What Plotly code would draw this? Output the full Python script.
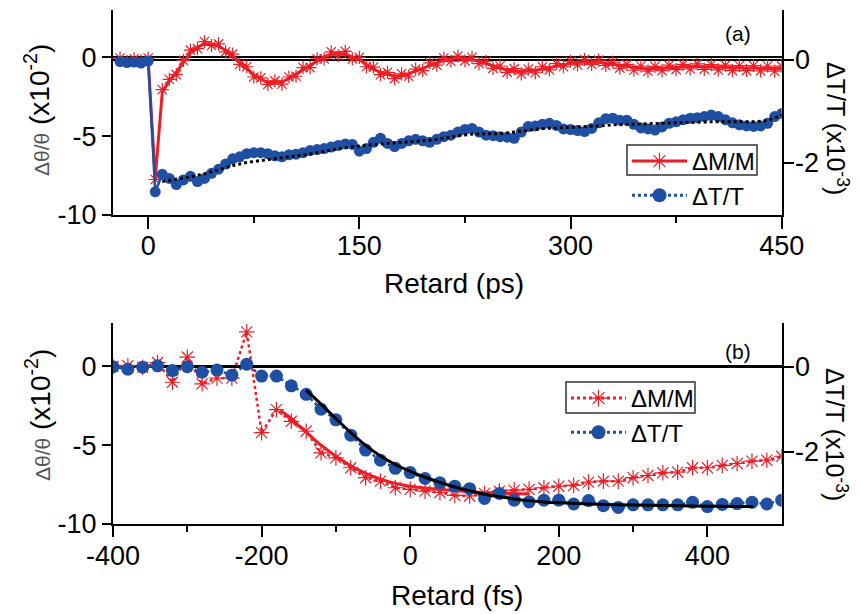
import plotly.graph_objects as go

# ---------------- Panel (a): Retard (ps) ----------------
t_a = list(range(-20, 455, 5))
dM_a = [-0.05, -0.25, -0.10, -0.22, -0.05, -7.75, -2.05, -1.40, -1.10, -0.20,
        0.45, 0.55, 1.00, 0.75, 0.85, 0.35, 0.20, -0.45, -0.60, -1.25,
        -1.30, -1.72, -1.50, -1.70, -1.25, -1.20, -0.65, -0.65, -0.10, -0.10,
        0.35, 0.10, 0.38, -0.10, 0.00, -0.60, -0.62, -1.10, -0.95, -1.35,
        -1.05, -1.20, -0.75, -0.85, -0.35, -0.50, -0.05, -0.25, 0.08, -0.22,
        0.00, -0.40, -0.25, -0.70, -0.55, -0.95, -0.72, -1.05, -0.75, -0.98,
        -0.60, -0.80, -0.40, -0.60, -0.25, -0.48, -0.15, -0.45, -0.18, -0.52,
        -0.30, -0.68, -0.45, -0.82, -0.55, -0.88, -0.57, -0.85, -0.50, -0.78,
        -0.45, -0.74, -0.42, -0.76, -0.46, -0.80, -0.50, -0.84, -0.52, -0.84,
        -0.52, -0.86, -0.55, -0.88, -0.56]
dM_a_fit = [-0.15, -0.10, -0.20, -0.12, -0.15, -7.70, -2.20, -1.50, -0.95, -0.35,
            0.30, 0.65, 0.85, 0.85, 0.70, 0.45, 0.10, -0.30, -0.72, -1.10,
            -1.40, -1.58, -1.62, -1.55, -1.35, -1.05, -0.80, -0.50, -0.25, 0.05,
            0.18, 0.25, 0.20, 0.05, -0.15, -0.45, -0.75, -0.95, -1.10, -1.20,
            -1.18, -1.05, -0.88, -0.70, -0.50, -0.35, -0.20, -0.10, -0.05, -0.08,
            -0.15, -0.25, -0.40, -0.55, -0.68, -0.80, -0.88, -0.90, -0.88, -0.82,
            -0.75, -0.65, -0.55, -0.45, -0.38, -0.33, -0.30, -0.30, -0.32, -0.38,
            -0.45, -0.52, -0.60, -0.66, -0.70, -0.72, -0.72, -0.70, -0.66, -0.62,
            -0.60, -0.58, -0.58, -0.60, -0.62, -0.64, -0.66, -0.68, -0.68, -0.68,
            -0.68, -0.70, -0.70, -0.72, -0.72]
dT_a = [-0.03, -0.05, -0.04, -0.06, -0.02, -2.56, -2.22, -2.30, -2.42, -2.33,
        -2.26, -2.36, -2.30, -2.20, -2.12, -2.02, -1.92, -1.88, -1.82, -1.80,
        -1.80, -1.82, -1.86, -1.88, -1.84, -1.83, -1.80, -1.76, -1.74, -1.72,
        -1.69, -1.66, -1.63, -1.64, -1.77, -1.72, -1.60, -1.52, -1.62, -1.68,
        -1.62, -1.57, -1.54, -1.57, -1.60, -1.54, -1.49, -1.46, -1.40, -1.35,
        -1.33, -1.40, -1.46, -1.47, -1.49, -1.50, -1.52, -1.40, -1.29, -1.28,
        -1.25, -1.23, -1.27, -1.34, -1.35, -1.37, -1.39, -1.33, -1.22, -1.14,
        -1.13, -1.17, -1.17, -1.25, -1.32, -1.34, -1.36, -1.30, -1.23, -1.20,
        -1.16, -1.13, -1.12, -1.10, -1.07, -1.10, -1.16, -1.22, -1.26, -1.28,
        -1.29, -1.28, -1.23, -1.10, -1.04]
t_a_fit = list(range(10, 460, 10))
dT_a_fit = [-2.36, -2.32, -2.27, -2.21, -2.13, -2.05, -1.99, -1.95, -1.91, -1.88,
            -1.85, -1.80, -1.75, -1.70, -1.67, -1.64, -1.62, -1.60, -1.58, -1.56,
            -1.52, -1.47, -1.44, -1.43, -1.43, -1.40, -1.36, -1.33, -1.32, -1.31,
            -1.30, -1.28, -1.26, -1.25, -1.25, -1.24, -1.23, -1.22, -1.21, -1.20,
            -1.20, -1.20, -1.20, -1.18, -1.07]

# ---------------- Panel (b): Retard (fs) ----------------
t_b = list(range(-400, 520, 20))
dM_b = [0.00, 0.05, -0.05, 0.25, -1.00, 0.60, -1.10, -0.74, -0.74, 2.20,
        -4.20, -2.74, -3.48, -4.11, -5.48, -5.80, -6.43, -7.06, -7.28, -7.70,
        -7.80, -7.91, -8.00, -8.18, -8.22, -8.06, -7.91, -7.85, -7.80, -7.70,
        -7.60, -7.55, -7.34, -7.28, -7.28, -7.06, -6.92, -6.75, -6.71, -6.43,
        -6.43, -6.28, -6.16, -6.01, -5.95, -5.70]
dT_b = [0.00, -0.06, -0.01, 0.02, -0.09, 0.00, -0.13, -0.08, -0.20, 0.06,
        -0.22, -0.22, -0.45, -0.65, -1.00, -1.25, -1.61, -1.96, -2.20, -2.39,
        -2.49, -2.63, -2.73, -2.81, -2.87, -3.10, -2.98, -3.14, -3.18, -3.14,
        -3.14, -3.23, -3.15, -3.27, -3.31, -3.25, -3.25, -3.25, -3.25, -3.19,
        -3.29, -3.24, -3.22, -3.19, -3.23, -3.14]
t_b_rfit = [-175, -160, -150, -140, -130, -120, -110, -100, -90, -80, -70, -60,
            -50, -40, -30, -20, -10, 0, 20, 40, 60, 80, 100, 120, 140, 160]
dM_b_fit = [-2.80, -3.30, -3.75, -4.15, -4.60, -5.00, -5.35, -5.70, -6.00, -6.30,
            -6.55, -6.78, -6.98, -7.15, -7.30, -7.42, -7.52, -7.60, -7.72, -7.80,
            -7.88, -7.95, -8.00, -8.04, -8.07, -8.10]
t_b_bfit = [-140, -120, -100, -80, -60, -40, -20, 0, 20, 40, 60, 80, 100, 120,
            140, 160, 180, 200, 240, 280, 320, 360, 400, 440, 462]
dT_b_fit = [-0.55, -0.88, -1.22, -1.55, -1.85, -2.10, -2.30, -2.46, -2.60, -2.72,
            -2.83, -2.92, -3.00, -3.06, -3.11, -3.15, -3.18, -3.20, -3.23, -3.25,
            -3.26, -3.27, -3.28, -3.29, -3.29]

# tick labels (plain hyphen minus as in the original)
ticks_left = [-10, -5, 0]
ticks_left_txt = ["-10", "-5", "0"]
ticks_right = [-2, 0]
ticks_right_txt = ["-2", "0"]
ticks_ps = [0, 150, 300, 450]
ticks_ps_txt = ["0", "150", "300", "450"]
ticks_fs = [-400, -200, 0, 200, 400]
ticks_fs_txt = ["-400", "-200", "0", "200", "400"]

RED = "#EE1C25"
BLUE = "#1F4FA3"
FONT = "Liberation Sans, Arial, sans-serif"

fig = go.Figure()

star = lambda s: dict(symbol="asterisk-open", size=s, color=RED, line=dict(color=RED, width=1.2))

# panel a traces
fig.add_trace(go.Scatter(x=t_a, y=dM_a, mode="markers", xaxis="x", yaxis="y",
                         marker=star(11), showlegend=False))
fig.add_trace(go.Scatter(x=t_a, y=dM_a_fit, mode="lines", xaxis="x", yaxis="y",
                         line=dict(color=RED, width=3), showlegend=False))
fig.add_trace(go.Scatter(x=t_a, y=dT_a, mode="lines+markers", xaxis="x", yaxis="y2",
                         line=dict(color=BLUE, width=2.5),
                         marker=dict(symbol="circle", size=11, color=BLUE),
                         showlegend=False))
fig.add_trace(go.Scatter(x=t_a_fit, y=dT_a_fit, mode="lines", xaxis="x", yaxis="y2",
                         line=dict(color="black", width=3, dash="dot"),
                         showlegend=False))
# legend (a)
fig.add_trace(go.Scatter(x=[None], y=[None], mode="lines+markers", xaxis="x", yaxis="y",
                         name="ΔM/M", legend="legend",
                         line=dict(color=RED, width=3), marker=star(14)))
fig.add_trace(go.Scatter(x=[None], y=[None], mode="lines+markers", xaxis="x", yaxis="y",
                         name="ΔT/T", legend="legend",
                         line=dict(color=BLUE, width=3, dash="dot"),
                         marker=dict(symbol="circle", size=14, color=BLUE)))

# panel b traces
fig.add_trace(go.Scatter(x=t_b, y=dM_b, mode="lines+markers", xaxis="x2", yaxis="y3",
                         line=dict(color=RED, width=2.5, dash="dot"),
                         marker=star(13), showlegend=False))
fig.add_trace(go.Scatter(x=t_b_rfit, y=dM_b_fit, mode="lines", xaxis="x2", yaxis="y3",
                         line=dict(color=RED, width=3, shape="spline"), showlegend=False))
fig.add_trace(go.Scatter(x=t_b, y=dT_b, mode="lines+markers", xaxis="x2", yaxis="y4",
                         line=dict(color=BLUE, width=2.5, dash="dot"),
                         marker=dict(symbol="circle", size=13, color=BLUE),
                         showlegend=False))
fig.add_trace(go.Scatter(x=t_b_bfit, y=dT_b_fit, mode="lines", xaxis="x2", yaxis="y4",
                         line=dict(color="black", width=3, shape="spline"), showlegend=False))
# legend (b)
fig.add_trace(go.Scatter(x=[None], y=[None], mode="lines+markers", xaxis="x2", yaxis="y3",
                         name="ΔM/M", legend="legend2",
                         line=dict(color=RED, width=3, dash="dot"), marker=star(14)))
fig.add_trace(go.Scatter(x=[None], y=[None], mode="lines+markers", xaxis="x2", yaxis="y3",
                         name="ΔT/T", legend="legend2",
                         line=dict(color=BLUE, width=3, dash="dot"),
                         marker=dict(symbol="circle", size=14, color=BLUE)))

W, H = 861, 614
xd = [113 / W, 781.7 / W]
dom_a = [1 - 215 / H, 1 - 10 / H]
dom_b = [1 - 524 / H, 1 - 322.7 / H]

tickfont = dict(family=FONT, size=27, color="black")
axcommon = dict(showline=True, linecolor="black", linewidth=2, ticks="outside",
                tickwidth=2, tickcolor="black", showgrid=False, automargin=False,
                tickfont=tickfont)

fig.update_layout(
    width=W, height=H, autosize=False,
    margin=dict(l=0, r=0, t=0, b=0),
    paper_bgcolor="white", plot_bgcolor="white",
    font=dict(family=FONT, color="black"),
    xaxis=dict(domain=xd, anchor="y", range=[-25, 450], tickvals=ticks_ps,
               ticktext=ticks_ps_txt, ticklen=12, zeroline=False, ticklabelstandoff=-6,
               minor=dict(tickvals=[75, 225, 375], ticklen=6, tickwidth=2, ticks="outside",
                          tickcolor="black"),
               **axcommon),
    xaxis3=dict(overlaying="x", anchor="y", side="top", range=[-25, 450], tickvals=ticks_ps,
                showline=True, linecolor="black", linewidth=2, ticks="inside", ticklen=10,
                tickwidth=2, tickcolor="black", showticklabels=False, showgrid=False,
                zeroline=False, automargin=False,
                minor=dict(tickvals=[75, 225, 375], ticklen=5, tickwidth=2, ticks="inside",
                           tickcolor="black")),
    yaxis=dict(domain=dom_a, anchor="x", range=[-10, 3], tickvals=ticks_left,
               ticktext=ticks_left_txt, ticklen=9,
               zeroline=True, zerolinecolor="black", zerolinewidth=2, **axcommon),
    yaxis2=dict(overlaying="y", anchor="x", side="right", range=[-3.01, 0.97],
                tickvals=ticks_right, ticktext=ticks_right_txt, ticklen=10, zeroline=True,
                zerolinecolor="black", zerolinewidth=2, ticklabelstandoff=-4, **axcommon),
    xaxis2=dict(domain=xd, anchor="y3", range=[-400, 500], tickvals=ticks_fs,
                ticktext=ticks_fs_txt, ticklen=11, zeroline=False, ticklabelstandoff=-4,
                minor=dict(tickvals=[-300, -100, 100, 300], ticklen=6, tickwidth=2,
                           ticks="outside", tickcolor="black"),
                **axcommon),
    xaxis4=dict(overlaying="x2", anchor="y3", side="top", range=[-400, 500],
                tickvals=[-250, 0, 250],
                showline=True, linecolor="black", linewidth=2, ticks="inside", ticklen=11,
                tickwidth=2, tickcolor="black", showticklabels=False, showgrid=False,
                zeroline=False, automargin=False,
                minor=dict(tickvals=[-375, -125, 125, 375], ticklen=6, tickwidth=2,
                           ticks="inside", tickcolor="black")),
    yaxis3=dict(domain=dom_b, anchor="x2", range=[-10, 2.78], tickvals=ticks_left,
                ticktext=ticks_left_txt, ticklen=9,
                zeroline=True, zerolinecolor="black", zerolinewidth=2, **axcommon),
    yaxis4=dict(overlaying="y3", anchor="x2", side="right", range=[-3.7, 1.035],
                tickvals=ticks_right, ticktext=ticks_right_txt, ticklen=10, zeroline=True,
                zerolinecolor="black", zerolinewidth=2, ticklabelstandoff=-4, **axcommon),
    legend=dict(x=627 / W, y=1 - 139 / H, xanchor="left", yanchor="top",
                bgcolor="rgba(0,0,0,0)", borderwidth=0, itemwidth=55,
                font=dict(family=FONT, size=24, color="black"), tracegroupgap=0),
    legend2=dict(x=566 / W, y=1 - 376 / H, xanchor="left", yanchor="top",
                 bgcolor="rgba(0,0,0,0)", borderwidth=0, itemwidth=55,
                 font=dict(family=FONT, size=24, color="black"), tracegroupgap=0),
    showlegend=True,
)

ylab_l = "<span style='font-size:21px;color:#555555'>Δθ/θ</span> (x10<sup>-2</sup>)"
ylab_r = "ΔT/T (x10<sup>-3</sup>)"
ann = [
    dict(text="Retard (ps)", x=454 / W, y=1 - 283 / H),
    dict(text="Retard (fs)", x=457 / W, y=1 - 595 / H),
    dict(text=ylab_l, x=37 / W, y=1 - 110 / H, textangle=-90),
    dict(text=ylab_l, x=38 / W, y=1 - 415 / H, textangle=-90),
    dict(text=ylab_r, x=837 / W, y=1 - 128 / H, textangle=90, font_size=25),
    dict(text=ylab_r, x=836 / W, y=1 - 434 / H, textangle=90, font_size=25),
]
annotations = []
for a in ann:
    fs = a.pop("font_size", 28)
    d = dict(xref="paper", yref="paper", showarrow=False, xanchor="center", yanchor="middle",
             font=dict(family=FONT, size=fs, color="black"))
    d.update(a)
    annotations.append(d)
for lbl, yy in (("(a)", 33), ("(b)", 351)):
    annotations.append(dict(text=lbl, x=738 / W, y=1 - yy / H, xref="paper", yref="paper",
                            xanchor="center", yanchor="middle", showarrow=False,
                            font=dict(family=FONT, size=21, color="black")))
fig.update_layout(annotations=annotations)

fig.update_layout(shapes=[
    dict(type="rect", xref="paper", yref="paper", x0=627 / W, x1=757 / W,
         y0=1 - 175 / H, y1=1 - 145 / H, line=dict(color="#333333", width=1.5)),
    dict(type="rect", xref="paper", yref="paper", x0=566 / W, x1=695 / W,
         y0=1 - 413 / H, y1=1 - 382 / H, line=dict(color="#333333", width=1.5)),
])

fig.write_html("out.html", config={"displayModeBar": False},
               post_script="document.body.style.margin='0';")
